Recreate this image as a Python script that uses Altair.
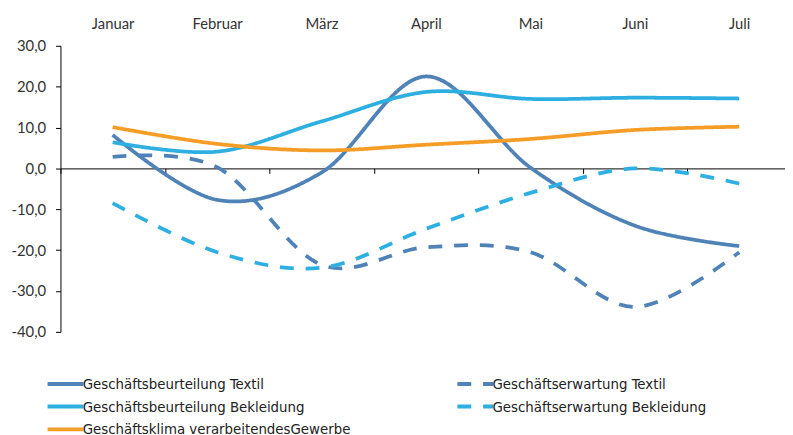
import altair as alt
import pandas as pd

months = ["Januar", "Februar", "März", "April", "Mai", "Juni", "Juli"]
series_names = [
    "Geschäftsbeurteilung Textil",
    "Geschäftsbeurteilung Bekleidung",
    "Geschäftsklima verarbeitendesGewerbe",
    "Geschäftserwartung Textil",
    "Geschäftserwartung Bekleidung",
]
beurteilung_textil = [8.2, -7.7, -1.0, 22.5, 0.2, -14.0, -19.0]
beurteilung_bekleidung = [6.4, 4.1, 11.5, 18.7, 17.0, 17.3, 17.1]
geschaeftsklima = [10.1, 6.0, 4.4, 5.8, 7.2, 9.4, 10.2]
erwartung_textil = [2.8, 0.3, -23.6, -19.3, -20.5, -33.9, -20.5]
erwartung_bekleidung = [-8.5, -20.5, -24.3, -14.8, -6.0, 0.0, -3.7]
y_ticks = [-40, -30, -20, -10, 0, 10, 20, 30]

colors = ["#4f83b7", "#2eafe2", "#f59d27", "#4f83b7", "#2eafe2"]
dashes = [[1, 0], [1, 0], [1, 0], [14, 12], [14, 12]]

all_values = [beurteilung_textil, beurteilung_bekleidung, geschaeftsklima,
              erwartung_textil, erwartung_bekleidung]
rows = []
for name, vals in zip(series_names, all_values):
    for m, v in zip(months, vals):
        rows.append({"month": m, "series": name, "value": v})
df = pd.DataFrame(rows)
df_months = pd.DataFrame({"month": months})

W = 732
H = 289
RANGE = [0, 738.5]
AXIS_FONT = "Lato"
LEGEND_FONT = "Liberation Sans Narrow, DejaVu Sans Condensed, Roboto Condensed, Arial Narrow, Roboto"

lines = alt.Chart(df).mark_line(interpolate="cardinal", strokeWidth=3.8).encode(
    x=alt.X("month:N", sort=months,
            scale=alt.Scale(type="point", domain=months, range=RANGE, padding=0.5),
            axis=alt.Axis(orient="top", title=None, domain=False, ticks=False,
                          tickSize=0, labelAngle=0, labelPadding=14,
                          labelFont=AXIS_FONT, labelFontSize=15, labelColor="#333")),
    y=alt.Y("value:Q",
            scale=alt.Scale(domain=[-40, 30], nice=False, zero=False),
            axis=alt.Axis(title=None, values=y_ticks, grid=False, domainColor="#000",
                          tickColor="#000", tickSize=5, labelPadding=10,
                          labelFont=AXIS_FONT, labelFontSize=15, labelColor="#333",
                          labelExpr="(datum.value < 0 ? '-' : '') + replace(format(abs(datum.value), '.1f'), '.', ',')")),
    color=alt.Color("series:N",
                    scale=alt.Scale(domain=series_names, range=colors),
                    legend=alt.Legend(title=None)),
    strokeDash=alt.StrokeDash("series:N",
                              scale=alt.Scale(domain=series_names, range=dashes),
                              legend=alt.Legend(title=None)),
    detail="series:N",
)

zero_axis = alt.Chart(df_months).mark_point(opacity=0).encode(
    x=alt.X("month:N", sort=months,
            scale=alt.Scale(type="band", domain=months, range=RANGE,
                            paddingInner=0, paddingOuter=0),
            axis=alt.Axis(orient="bottom", title=None, labels=False, domain=True,
                          domainColor="#000", ticks=True, tickColor="#000",
                          tickSize=5, tickBand="extent",
                          offset=-(H - H * 30 / 70))),
)

chart = alt.layer(lines, zero_axis).resolve_scale(x="independent").properties(
    width=W, height=H,
    autosize=alt.AutoSizeParams(type="none"),
    padding={"left": 53, "top": 36, "right": 0, "bottom": 102},
).configure_view(stroke=None).configure_legend(
    orient="none", legendX=-2.5, legendY=334, columns=2, columnPadding=99,
    rowPadding=6, symbolType="M-4,0H4", symbolSize=81, symbolStrokeWidth=4,
    labelFont=LEGEND_FONT, labelFontSize=15, labelColor="#222",
    labelOffset=10, labelLimit=400, padding=0,
)

chart.save("out.html", embed_options={"renderer": "svg", "actions": False})
